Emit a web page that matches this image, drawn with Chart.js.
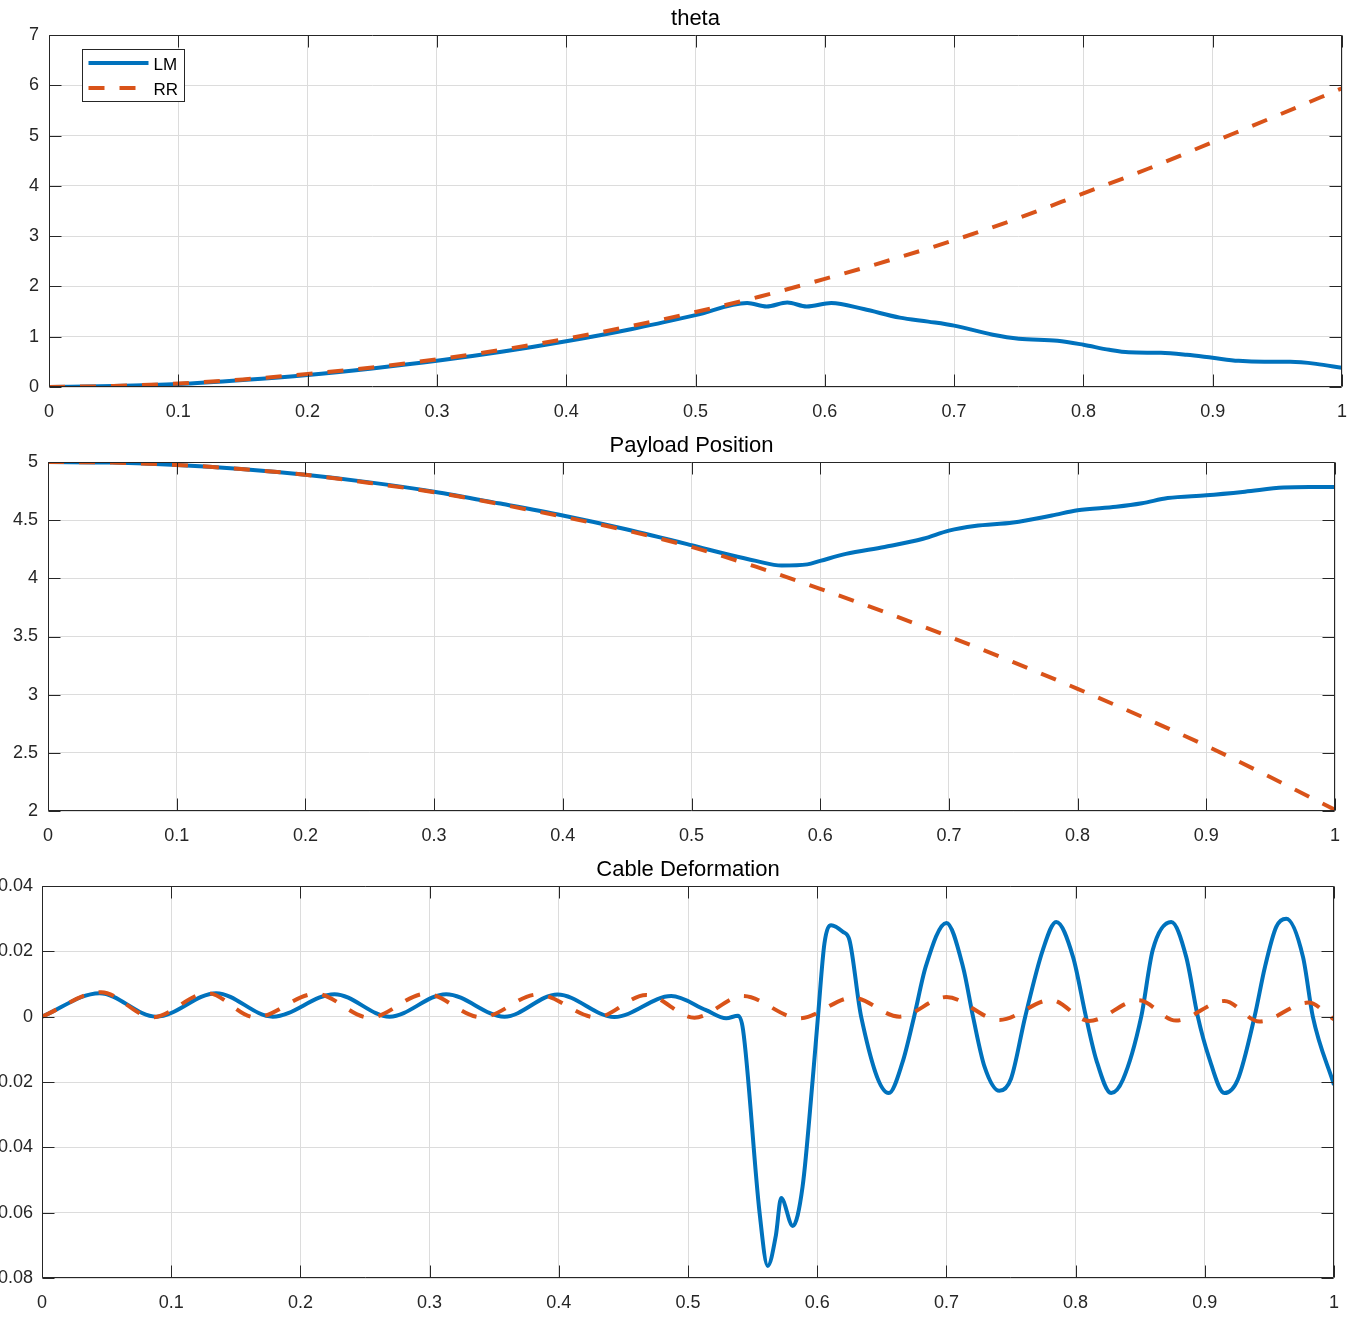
<!DOCTYPE html>
<html>
<head>
<meta charset="utf-8">
<title>theta / Payload Position / Cable Deformation</title>
<script src="https://cdn.jsdelivr.net/npm/chart.js@4.4.0/dist/chart.umd.min.js"></script>
<style>
  html, body { margin: 0; padding: 0; background: #fff; }
  #wrap { position: relative; width: 1365px; height: 1333px; }
  .box { position: absolute; left: 0; width: 1365px; }
</style>
</head>
<body>
<div id="wrap">
  <div class="box" style="top:0"><canvas id="c1" width="1365" height="430"></canvas></div>
  <div class="box" style="top:430px"><canvas id="c2" width="1365" height="420"></canvas></div>
  <div class="box" style="top:850px"><canvas id="c3" width="1365" height="483"></canvas></div>
</div>
<script>
// ---- theta ----
const thetaTimeLM = [0, 0.05, 0.1, 0.15, 0.2, 0.25, 0.3, 0.35, 0.4, 0.45, 0.5, 0.54, 0.555, 0.571, 0.586, 0.605, 0.63, 0.658, 0.68, 0.7, 0.73, 0.75, 0.78, 0.8, 0.82, 0.835, 0.86, 0.88, 0.9, 0.92, 0.94, 0.96, 0.98, 1.0];
const thetaLM = [0, 0.02, 0.06, 0.14, 0.24, 0.37, 0.52, 0.70, 0.91, 1.15, 1.43, 1.67, 1.60, 1.68, 1.60, 1.67, 1.55, 1.38, 1.30, 1.22, 1.04, 0.96, 0.92, 0.84, 0.74, 0.69, 0.68, 0.64, 0.58, 0.52, 0.50, 0.50, 0.46, 0.38];
const thetaTimeRR = [0, 0.05, 0.1, 0.15, 0.2, 0.25, 0.3, 0.35, 0.4, 0.45, 0.5, 0.55, 0.6, 0.65, 0.7, 0.75, 0.8, 0.85, 0.9, 0.95, 1.0];
const thetaRR = [0, 0.02, 0.07, 0.15, 0.26, 0.39, 0.55, 0.74, 0.96, 1.21, 1.49, 1.80, 2.15, 2.52, 2.92, 3.36, 3.85, 4.34, 4.87, 5.40, 5.94];

// ---- Payload Position ----
const payTimeLM = [0, 0.05, 0.1, 0.15, 0.2, 0.25, 0.3, 0.35, 0.4, 0.45, 0.5, 0.53, 0.55, 0.57, 0.59, 0.6, 0.62, 0.65, 0.68, 0.7, 0.72, 0.75, 0.78, 0.8, 0.83, 0.85, 0.87, 0.9, 0.93, 0.96, 0.98, 1.0];
const payLM = [5.0, 4.995, 4.975, 4.94, 4.89, 4.825, 4.745, 4.645, 4.54, 4.42, 4.285, 4.20, 4.15, 4.11, 4.12, 4.15, 4.21, 4.27, 4.34, 4.41, 4.45, 4.48, 4.54, 4.585, 4.615, 4.645, 4.69, 4.714, 4.745, 4.78, 4.785, 4.785];
const payTimeRR = [0, 0.05, 0.1, 0.15, 0.2, 0.25, 0.3, 0.35, 0.4, 0.45, 0.5, 0.55, 0.6, 0.65, 0.7, 0.75, 0.8, 0.85, 0.9, 0.95, 1.0];
const payRR = [5.0, 4.995, 4.975, 4.94, 4.89, 4.82, 4.74, 4.64, 4.53, 4.41, 4.27, 4.10, 3.91, 3.71, 3.50, 3.28, 3.05, 2.81, 2.56, 2.29, 2.01];

// ---- Cable Deformation ----
const cableTimeLM = [0, 0.0445, 0.0884, 0.1348, 0.1786, 0.2264, 0.269, 0.3128, 0.358, 0.399, 0.443, 0.487, 0.514, 0.5296, 0.5387, 0.5426, 0.5554, 0.5617, 0.568, 0.5721, 0.5811, 0.5887, 0.5965, 0.6006, 0.6056, 0.6108, 0.6198, 0.625, 0.634, 0.6554, 0.666, 0.675, 0.684, 0.700, 0.713, 0.7206, 0.7295, 0.741, 0.75, 0.761, 0.7746, 0.785, 0.798, 0.808, 0.816, 0.8275, 0.8366, 0.8508, 0.8597, 0.874, 0.8856, 0.8946, 0.903, 0.9152, 0.9255, 0.9385, 0.9466, 0.9553, 0.963, 0.976, 0.9836, 1.0];
const cableLM = [0, 0.0072, 0, 0.0072, 0, 0.0069, 0, 0.0069, 0, 0.0068, -0.0001, 0.0063, 0.002, -0.0005, 0.0003, -0.004, -0.060, -0.0763, -0.067, -0.0555, -0.0641, -0.052, -0.0193, 0, 0.0224, 0.028, 0.026, 0.0234, 0, -0.0234, -0.014, 0, 0.0153, 0.0287, 0.015, 0, -0.0153, -0.0227, -0.019, 0, 0.0204, 0.029, 0.0183, 0, -0.0132, -0.0234, -0.0193, 0, 0.0204, 0.029, 0.0183, 0, -0.0122, -0.0234, -0.0193, 0, 0.0153, 0.0275, 0.030, 0.0183, 0, -0.0209];
const cableTimeRR = [0, 0.0458, 0.0855, 0.128, 0.165, 0.212, 0.2535, 0.297, 0.340, 0.3838, 0.429, 0.4677, 0.505, 0.5425, 0.5863, 0.6275, 0.6637, 0.700, 0.741, 0.781, 0.8105, 0.8487, 0.8777, 0.9152, 0.9423, 0.98, 1.0];
const cableRR = [0, 0.0075, -0.0002, 0.0072, -0.0002, 0.007, -0.0003, 0.007, -0.0002, 0.0068, -0.0002, 0.0066, -0.0003, 0.0063, -0.0005, 0.0058, 0, 0.006, -0.001, 0.0051, -0.0013, 0.005, -0.0012, 0.0048, -0.0015, 0.0043, -0.0008];

const xTicks = { min: 0, max: 1, step: 0.1 };

const FONT = 'Arial, "Liberation Sans", sans-serif';
const AXIS_COLOR = '#262626';
const GRID_COLOR = '#dcdcdc';
const LM_COLOR = '#0072BD';
const RR_COLOR = '#D95319';

function pts(xs, ys) {
    return xs.map((x, i) => ({ x: x, y: ys[i] }));
}

// matlab style labels: 1 not 1.0, 0.02 not 0.020
function fmt(v) {
    return String(+Number(v).toFixed(3));
}

// matlab-like box, inner ticks, title and legend
const matlabAxes = {
    id: 'matlabAxes',
    afterDraw(chart, args, opts) {
        const ctx = chart.ctx;
        const a = chart.chartArea;
        const l = Math.round(a.left) + 0.5, r = Math.round(a.right) - 0.5;
        const t = Math.round(a.top) + 0.5, b = Math.round(a.bottom) - 0.5;
        const xs = chart.scales.x, ys = chart.scales.y;
        const tl = 12;
        ctx.save();
        ctx.strokeStyle = AXIS_COLOR;
        ctx.lineWidth = 1;
        ctx.beginPath();
        ctx.rect(l, t, r - l, b - t);
        xs.ticks.forEach(tk => {
            const px = Math.round(xs.getPixelForValue(tk.value)) + 0.5;
            ctx.moveTo(px, b); ctx.lineTo(px, b - tl);
            ctx.moveTo(px, t); ctx.lineTo(px, t + tl);
        });
        ys.ticks.forEach(tk => {
            const py = Math.round(ys.getPixelForValue(tk.value)) + 0.5;
            ctx.moveTo(l, py); ctx.lineTo(l + tl, py);
            ctx.moveTo(r, py); ctx.lineTo(r - tl, py);
        });
        ctx.stroke();

        // title
        ctx.fillStyle = '#000';
        ctx.font = '22px ' + FONT;
        ctx.textAlign = 'center';
        ctx.textBaseline = 'middle';
        ctx.fillText(opts.title, (a.left + a.right) / 2, a.top - 16);

        if (opts.legend) {
            const lx = l + 33, ly = t + 14;
            ctx.fillStyle = '#fff';
            ctx.fillRect(lx, ly, 102, 52);
            ctx.strokeRect(lx, ly, 102, 52);
            const items = chart.data.datasets;
            ctx.font = '17px ' + FONT;
            ctx.textAlign = 'left';
            items.forEach((ds, i) => {
                const y = ly + 13.5 + i * 25;
                ctx.strokeStyle = ds.borderColor;
                ctx.lineWidth = ds.borderWidth;
                ctx.setLineDash(ds.borderDash || []);
                ctx.beginPath();
                ctx.moveTo(lx + 6, y);
                ctx.lineTo(lx + 66, y);
                ctx.stroke();
                ctx.setLineDash([]);
                ctx.fillStyle = '#000';
                ctx.fillText(ds.label, lx + 71, y + 2);
            });
        }
        ctx.restore();
    }
};

function makeChart(id, cfg) {
    new Chart(document.getElementById(id), {
        type: 'line',
        data: {
            datasets: [
                {
                    label: 'LM',
                    data: pts(cfg.lmX, cfg.lmY),
                    borderColor: LM_COLOR,
                    borderWidth: 4,
                    pointRadius: 0,
                    cubicInterpolationMode: 'monotone',
                    fill: false,
                    order: 1
                },
                {
                    label: 'RR',
                    data: pts(cfg.rrX, cfg.rrY),
                    borderColor: RR_COLOR,
                    borderWidth: 4,
                    borderDash: [16, 15],
                    pointRadius: 0,
                    cubicInterpolationMode: 'monotone',
                    fill: false,
                    order: 0
                }
            ]
        },
        options: {
            responsive: false,
            animation: false,
            devicePixelRatio: 1,
            layout: { padding: { left: 0, top: cfg.top, right: cfg.right, bottom: 0 } },
            scales: {
                x: {
                    type: 'linear',
                    min: xTicks.min,
                    max: xTicks.max,
                    ticks: {
                        stepSize: xTicks.step,
                        color: AXIS_COLOR,
                        font: { family: FONT, size: 18 },
                        padding: 14,
                        maxRotation: 0,
                        autoSkip: false,
                        callback: fmt
                    },
                    grid: { color: GRID_COLOR, drawTicks: false },
                    border: { display: false },
                    afterFit: s => { s.height = cfg.xh; s.paddingRight = 0; s.paddingLeft = 0; }
                },
                y: {
                    type: 'linear',
                    min: cfg.yMin,
                    max: cfg.yMax,
                    ticks: {
                        stepSize: cfg.yStep,
                        color: AXIS_COLOR,
                        font: { family: FONT, size: 18 },
                        padding: cfg.yPad,
                        callback: fmt
                    },
                    grid: { color: GRID_COLOR, drawTicks: false },
                    border: { display: false },
                    afterFit: s => { s.width = cfg.left; s.paddingTop = 0; s.paddingBottom = 0; }
                }
            },
            plugins: {
                legend: { display: false },
                tooltip: { enabled: false },
                matlabAxes: { title: cfg.title, legend: cfg.legend }
            }
        },
        plugins: [matlabAxes]
    });
}

makeChart('c1', {
    title: 'theta', legend: true,
    lmX: thetaTimeLM, lmY: thetaLM, rrX: thetaTimeRR, rrY: thetaRR,
    yMin: 0, yMax: 7, yStep: 1,
    left: 49, top: 35, right: 23, xh: 43, yPad: 10
});
makeChart('c2', {
    title: 'Payload Position', legend: false,
    lmX: payTimeLM, lmY: payLM, rrX: payTimeRR, rrY: payRR,
    yMin: 2, yMax: 5, yStep: 0.5,
    left: 48, top: 32, right: 30, xh: 39, yPad: 10
});
makeChart('c3', {
    title: 'Cable Deformation', legend: false,
    lmX: cableTimeLM, lmY: cableLM, rrX: cableTimeRR, rrY: cableRR,
    yMin: -0.08, yMax: 0.04, yStep: 0.02,
    left: 42, top: 36, right: 31, xh: 55, yPad: 9
});
</script>
</body>
</html>
